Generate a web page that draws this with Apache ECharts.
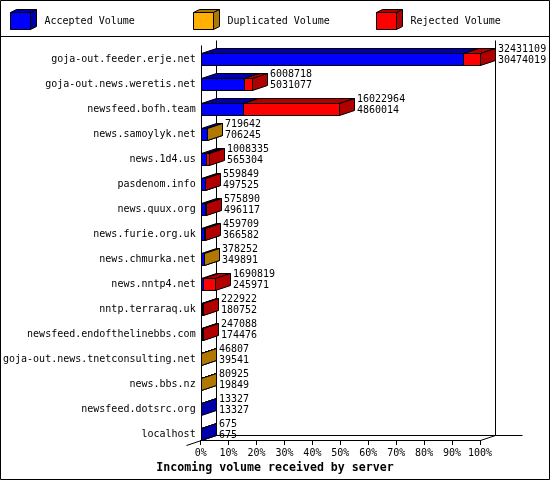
<!DOCTYPE html>
<html><head><meta charset="utf-8">
<script src="https://cdn.jsdelivr.net/npm/echarts@6/dist/echarts.min.js"></script>
<style>html,body{margin:0;padding:0;background:#fff}#c{width:550px;height:480px}</style>
</head><body><div id="c"></div>
<script>
const categories = ['goja-out.feeder.erje.net','goja-out.news.weretis.net','newsfeed.bofh.team','news.samoylyk.net','news.1d4.us','pasdenom.info','news.quux.org','news.furie.org.uk','news.chmurka.net','news.nntp4.net','nntp.terraraq.uk','newsfeed.endofthelinebbs.com','goja-out.news.tnetconsulting.net','news.bbs.nz','newsfeed.dotsrc.org','localhost'];
const totalVolume = [32431109,6008718,16022964,719642,1008335,559849,575890,459709,378252,1690819,222922,247088,46807,80925,13327,675];
const acceptedVolume = [30474019,5031077,4860014,706245,565304,497525,496117,366582,349891,245971,180752,174476,39541,19849,13327,675];
const duplicatedVolume = [0,0,0,13397,0,0,0,0,28361,0,0,0,7266,61076,0,0];
const rejectedVolume = [1957090,977641,11162950,0,443031,62324,79773,93127,0,1444848,42170,72612,0,0,0,0];
const seriesNames = ['Accepted Volume','Duplicated Volume','Rejected Volume'];
const axisTitle = 'Incoming volume received by server';

const FONT = '"DejaVu Sans Mono", monospace';
const frontColors = ['#0000ff','#ffb000','#ff0000'];
const darkColors = ['#0000aa','#b07800','#b00000'];
const DX = 15, DY = 5, HALF = 6;

const maxTotal = Math.max(...totalVolume);
const pct = v => v / maxTotal * 100;
const parts = [acceptedVolume, duplicatedVolume, rejectedVolume];
function segData(k) {
  return categories.map((c, i) => {
    let s = 0;
    for (let j = 0; j < k; j++) s += parts[j][i];
    return [pct(s), pct(s + parts[k][i]), i, parts[k][i]];
  });
}
function px(v) { return Math.round(v) + 0.5; }

function cubeRenderer(k) {
  return function (params, api) {
    if (api.value(3) <= 0) return;
    const a = api.coord([api.value(0), api.value(2)]);
    const b = api.coord([api.value(1), api.value(2)]);
    const x0 = px(a[0]);
    const x1 = Math.max(x0, px(b[0]));
    const cy = Math.round(a[1]);
    const t = cy - HALF + 0.5, bt = cy + HALF + 0.5;
    const ls = { stroke: '#000', lineWidth: 1 };
    return {
      type: 'group',
      children: [
        { type: 'polygon', shape: { points: [[x0, t], [x0 + DX, t - DY], [x1 + DX, t - DY], [x1, t]] }, style: Object.assign({ fill: darkColors[k] }, ls) },
        { type: 'polygon', shape: { points: [[x1, t], [x1 + DX, t - DY], [x1 + DX, bt - DY], [x1, bt]] }, style: Object.assign({ fill: darkColors[k] }, ls) },
        { type: 'rect', shape: { x: x0, y: t, width: x1 - x0, height: bt - t }, style: Object.assign({ fill: frontColors[k] }, ls) }
      ]
    };
  };
}

function frameRenderer(params, api) {
  const cs = params.coordSys;
  const L = px(cs.x), R = px(cs.x + cs.width);
  const B = Math.round(api.coord([0, categories.length - 1])[1]) + HALF + 0.5;
  const T = px(cs.y - 1.5);
  const st = { stroke: '#000', lineWidth: 1 };
  const line = (x1, y1, x2, y2) => ({ type: 'line', shape: { x1, y1, x2, y2 }, style: st });
  return {
    type: 'group',
    children: [
      line(L + DX, T - DY, L + DX, B - DY),
      line(R + DX, T - DY, R + DX, B - DY),
      line(L + DX, B - DY, R + DX + 27, B - DY),
      line(L - 15, B + 5, L + DX, B - DY),
      line(R, B, R + DX, B - DY),
      line(L, T, L, B),
      line(L, B, R, B)
    ]
  };
}

function labelRenderer(params, api) {
  const p = api.coord([api.value(0), api.value(1)]);
  const x = Math.round(p[0]) + DX + 3;
  const cy = Math.round(p[1]);
  const mk = (txt, y) => ({ type: 'text', style: { text: txt, x: x, y: y, fill: '#000', font: '10px ' + FONT, align: 'left', verticalAlign: 'middle', textAlign: 'left', textVerticalAlign: 'middle' } });
  return { type: 'group', children: [mk(String(api.value(2)), cy - 9.5), mk(String(api.value(3)), cy + 1.5)] };
}

const legendX = [10.5, 193.5, 376.5];
const legendGraphics = [];
legendX.forEach((x, k) => {
  const y = 12.5, w = 20, h = 17, dx = 6, dy = 3;
  const st = { stroke: '#000', lineWidth: 1 };
  legendGraphics.push(
    { type: 'polygon', shape: { points: [[x, y], [x + dx, y - dy], [x + w + dx, y - dy], [x + w, y]] }, style: Object.assign({ fill: darkColors[k] }, st) },
    { type: 'polygon', shape: { points: [[x + w, y], [x + w + dx, y - dy], [x + w + dx, y + h - dy], [x + w, y + h]] }, style: Object.assign({ fill: darkColors[k] }, st) },
    { type: 'rect', shape: { x: x, y: y, width: w, height: h }, style: Object.assign({ fill: frontColors[k] }, st) }
  );
});

const chart = echarts.init(document.getElementById('c'), null, { renderer: 'canvas' });
const legendTextX = [44.5, 227.5, 410.5];
chart.setOption({
  animation: false,
  backgroundColor: '#fff',
  title: { text: axisTitle, left: 'center', top: 461.5, padding: 0, textStyle: { fontFamily: FONT, fontSize: 11.6, fontWeight: 'bold', color: '#000' } },
  legend: seriesNames.map((n, k) => ({
    data: [n], left: legendTextX[k] - 25, top: 14, padding: 0, itemWidth: 20, itemHeight: 14,
    itemStyle: { opacity: 0 }, selectedMode: false,
    textStyle: { fontFamily: FONT, fontSize: 10, color: '#000' }
  })),
  grid: { left: 200, top: 46.5, width: 280, height: 400, containLabel: false },
  xAxis: {
    type: 'value', min: 0, max: 100, interval: 10, offset: -6.5,
    axisLine: { show: false },
    axisTick: { show: true, length: 5, lineStyle: { color: '#000', width: 1 } },
    splitLine: { show: false },
    axisLabel: { formatter: '{value}%', margin: 8, color: '#000', fontFamily: FONT, fontSize: 10 }
  },
  yAxis: {
    type: 'category', inverse: true, data: categories,
    axisLine: { show: false }, axisTick: { show: false }, splitLine: { show: false },
    axisLabel: { margin: 5, color: '#000', fontFamily: FONT, fontSize: 10 }
  },
  graphic: [
    { type: 'rect', shape: { x: 0.5, y: 0.5, width: 549, height: 479 }, style: { fill: 'none', stroke: '#000', lineWidth: 1 }, z: 100 },
    { type: 'line', shape: { x1: 0, y1: 36.5, x2: 550, y2: 36.5 }, style: { stroke: '#000', lineWidth: 1 } }
  ].concat(legendGraphics),
  series: [
    { type: 'custom', name: 'frame', renderItem: frameRenderer, data: [[0]], silent: true, z: 1 },
    ...seriesNames.map((n, k) => ({
      type: 'custom', name: n, renderItem: cubeRenderer(k), data: segData(k),
      itemStyle: { color: frontColors[k] }, encode: { x: [0, 1], y: 2 }, z: 2 + k
    })),
    { type: 'custom', name: 'labels', renderItem: labelRenderer, silent: true, z: 10,
      data: categories.map((c, i) => [pct(totalVolume[i]), i, totalVolume[i], acceptedVolume[i]]), encode: { x: 0, y: 1 } }
  ]
});
</script></body></html>
